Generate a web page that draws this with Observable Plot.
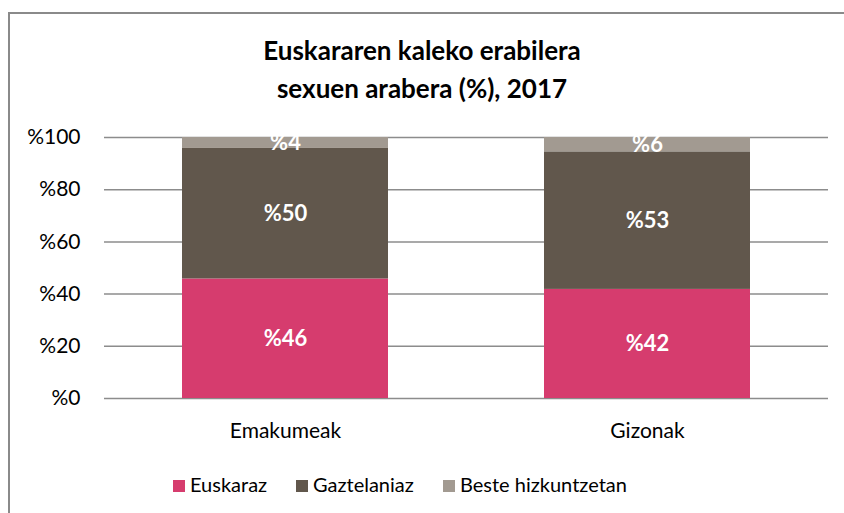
<!DOCTYPE html>
<html>
<head>
<meta charset="utf-8">
<script src="https://cdn.jsdelivr.net/npm/d3@7"></script>
<script src="https://cdn.jsdelivr.net/npm/@observablehq/plot@0.6"></script>
<style>
  html, body { margin: 0; padding: 0; background: #fff; width: 844px; height: 513px; overflow: hidden; }
  body { position: relative; font-family: Lato, "Open Sans", sans-serif; color: #000; }
  #frame { position: absolute; left: 8px; top: 12px; width: 900px; height: 600px;
           border-top: 2px solid #8a8a8a; border-left: 2px solid #8a8a8a; box-sizing: border-box; }
  #title { position: absolute; left: 0; top: 31px; width: 844px; text-align: center;
           font-weight: bold; font-size: 26px; line-height: 38px; }
  #chart { position: absolute; left: 0; top: 110px; }
  #legend { position: absolute; left: 0; top: 471px; width: 844px; height: 26px; }
  .item { position: absolute; top: 0; font-size: 20px; line-height: 26px; white-space: nowrap; }
  .sw { display: inline-block; width: 12px; height: 12px; margin-right: 5px; vertical-align: 0px; }
</style>
</head>
<body>
<div id="frame"></div>
<div id="title">Euskararen kaleko erabilera<br>sexuen arabera (%), 2017</div>
<div id="chart"></div>
<div id="legend"></div>
<script>
const categories = ["Emakumeak", "Gizonak"];
const languages = ["Euskaraz", "Gaztelaniaz", "Beste hizkuntzetan"];
const euskaraz = [45.8, 41.8];
const gaztelaniaz = [50.0, 52.7];
const beste = [4.2, 5.5];
const colors = ["#d63c6e", "#61574c", "#a29a91"];
const yTicks = [0, 20, 40, 60, 80, 100];
const legendX = [173, 296, 443];

const series = [euskaraz, gaztelaniaz, beste];
const rows = [];
languages.forEach((lang, li) => {
  categories.forEach((cat, ci) => {
    rows.push({cat, lang, value: series[li][ci]});
  });
});

const plot = Plot.plot({
  width: 844,
  height: 340,
  marginTop: 27,
  marginBottom: 52,
  marginLeft: 104,
  marginRight: 16,
  style: {fontFamily: "Lato, 'Open Sans', sans-serif", fontSize: "21px", color: "#000", background: "transparent"},
  x: {domain: categories, paddingInner: 0.43, paddingOuter: 0.215, label: null, tickSize: 0, tickPadding: 25},
  y: {domain: [0, 100], ticks: yTicks, label: null, tickSize: 0, tickPadding: 24, tickFormat: d => "%" + d},
  color: {domain: languages, range: colors},
  marks: [
    Plot.ruleY(yTicks, {stroke: "#8c8c8c", strokeWidth: 1.5, strokeOpacity: 1}),
    Plot.barY(rows, {x: "cat", y: "value", fill: "lang", z: "lang"}),
    Plot.text(rows, Plot.stackY({x: "cat", y: "value", z: "lang", text: d => "%" + Math.round(d.value),
      fill: "white", fontWeight: "bold", fontSize: 22}))
  ]
});
document.getElementById("chart").appendChild(plot);

const legend = document.getElementById("legend");
languages.forEach((lang, i) => {
  const item = document.createElement("div");
  item.className = "item";
  item.style.left = legendX[i] + "px";
  const sw = document.createElement("span");
  sw.className = "sw";
  sw.style.background = colors[i];
  item.appendChild(sw);
  item.appendChild(document.createTextNode(lang));
  legend.appendChild(item);
});
</script>
</body>
</html>
